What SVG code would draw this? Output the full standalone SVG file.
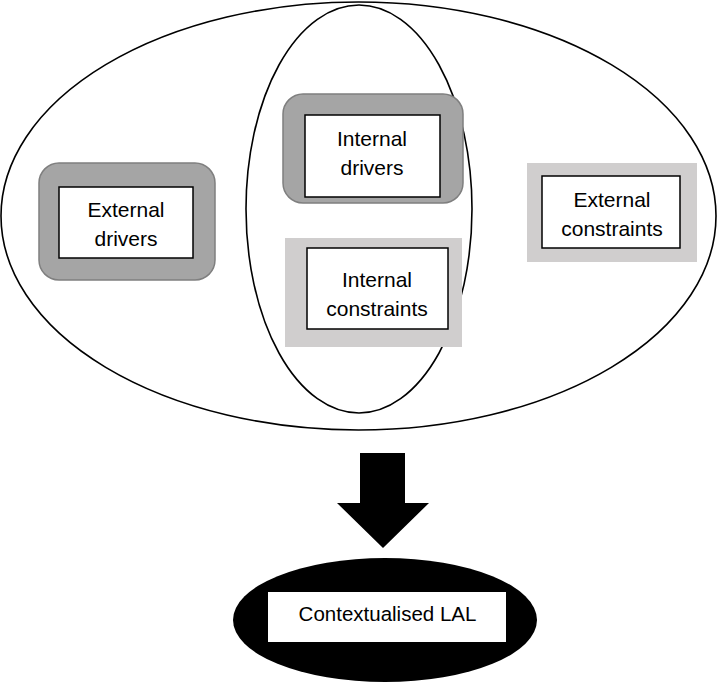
<svg xmlns="http://www.w3.org/2000/svg" width="717" height="682" viewBox="0 0 717 682">
<style>
.ring{fill:none;stroke:#000;stroke-width:1.6}
.dark{fill:#a5a5a5;stroke:#7f7f7f;stroke-width:1.5}
.light{fill:#d0cece;stroke:none}
.box{fill:#fff;stroke:#000;stroke-width:1.5}
text{font-family:"Liberation Sans",Arial,sans-serif;font-size:21px;fill:#000;text-anchor:middle}
</style>
<rect width="717" height="682" fill="#fff"/>
<g id="context-outer"><ellipse class="ring" cx="358.5" cy="216" rx="357.5" ry="214"/></g>
<g id="context-inner"><ellipse class="ring" cx="359" cy="209" rx="113" ry="204"/></g>
<g id="external-drivers">
<rect class="dark" x="39" y="163" width="176" height="117" rx="20"/>
<rect class="box" x="59" y="187" width="134" height="71"/>
<text x="126" y="217">External</text><text x="126" y="246">drivers</text>
</g>
<g id="internal-drivers">
<rect class="dark" x="283" y="94" width="180" height="109" rx="20"/>
<rect class="box" x="305" y="115" width="135" height="82"/>
<text x="372" y="146">Internal</text><text x="372" y="175">drivers</text>
</g>
<g id="internal-constraints">
<rect class="light" x="285" y="238" width="177" height="109"/>
<rect class="box" x="307" y="248" width="141" height="81"/>
<text x="377" y="287">Internal</text><text x="377" y="316">constraints</text>
</g>
<g id="external-constraints">
<rect class="light" x="527" y="163" width="170" height="99"/>
<rect class="box" x="542" y="176" width="138" height="72"/>
<text x="612" y="207">External</text><text x="612" y="236">constraints</text>
</g>
<g id="connectors">
<polygon points="360,453 405,453 405,503 429,503 383,548 337,503 360,503" fill="#000"/>
</g>
<g id="contextualised-lal">
<ellipse cx="385" cy="620" rx="152" ry="62" fill="#000"/>
<rect x="268" y="592" width="238" height="50" fill="#fff"/>
<text x="387.5" y="621" style="font-size:20.5px">Contextualised LAL</text>
</g>
</svg>
